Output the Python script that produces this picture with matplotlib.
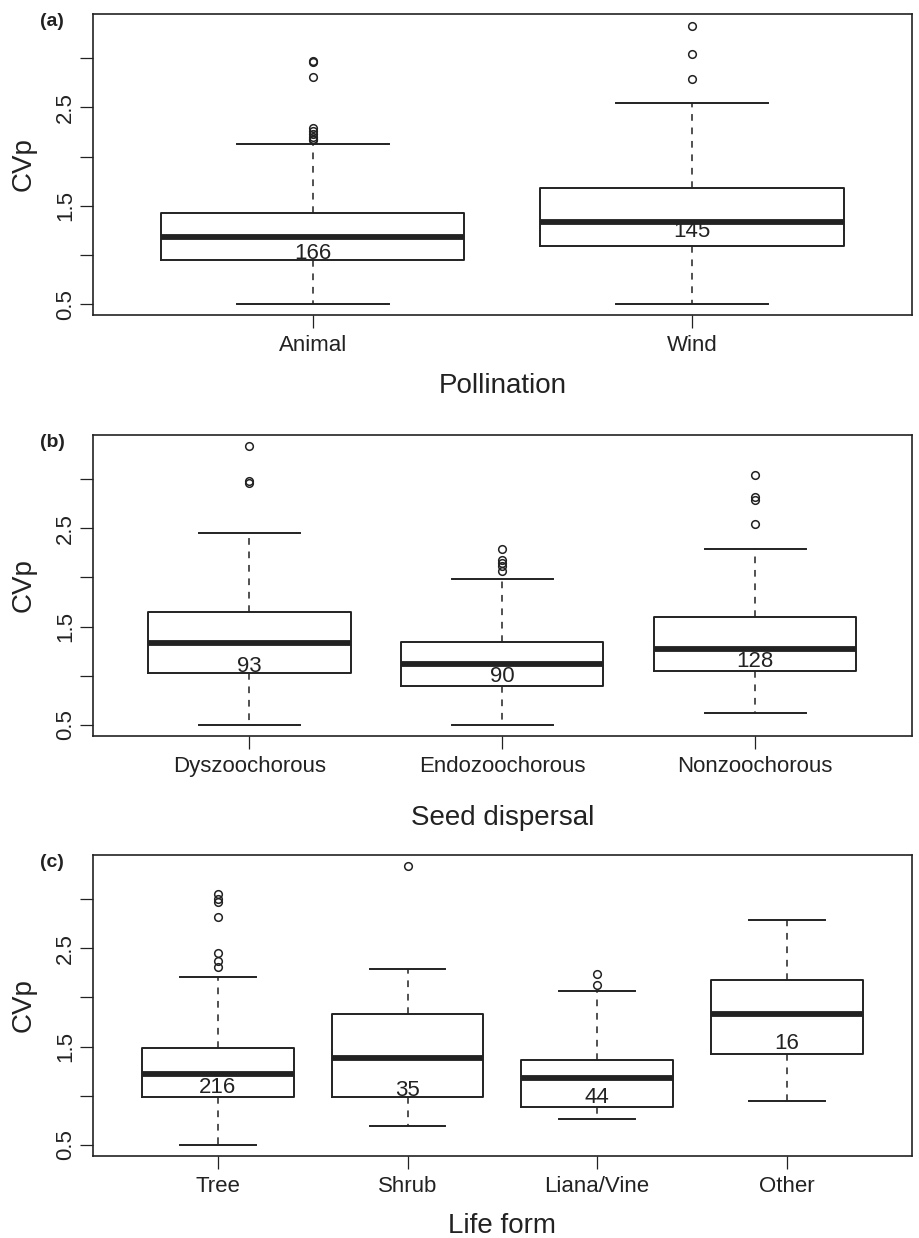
import matplotlib
matplotlib.use('Agg')
import matplotlib.pyplot as plt

plt.rcParams['font.family'] = ['Liberation Sans', 'DejaVu Sans']

# Panel (a): pollination
poll_names = ["Animal", "Wind"]
poll_q1 = [0.949, 1.091]
poll_med = [1.179, 1.337]
poll_q3 = [1.430, 1.681]
poll_lo = [0.503, 0.503]
poll_hi = [2.127, 2.543]
poll_fliers = [[2.975, 2.965, 2.81, 2.29, 2.26, 2.23, 2.20, 2.18, 2.165],
               [3.33, 3.04, 2.79]]
poll_n = [166, 145]
poll_label_y = [1.02, 1.24]

# Panel (b): seed dispersal
disp_names = ["Dyszoochorous", "Endozoochorous", "Nonzoochorous"]
disp_q1 = [1.026, 0.897, 1.052]
disp_med = [1.337, 1.121, 1.276]
disp_q3 = [1.646, 1.341, 1.599]
disp_lo = [0.503, 0.503, 0.622]
disp_hi = [2.453, 1.985, 2.287]
disp_fliers = [[3.338, 2.98, 2.965],
               [2.29, 2.18, 2.15, 2.12, 2.067],
               [3.043, 2.816, 2.789, 2.545]]
disp_n = [93, 90, 128]
disp_label_y = [1.093, 0.99, 1.148]

# Panel (c): life form
life_names = ["Tree", "Shrub", "Liana/Vine", "Other"]
life_q1 = [0.989, 0.989, 0.884, 1.430]
life_med = [1.223, 1.383, 1.182, 1.837]
life_q3 = [1.488, 1.827, 1.366, 2.177]
life_lo = [0.500, 0.693, 0.768, 0.951]
life_hi = [2.204, 2.292, 2.065, 2.791]
life_fliers = [[3.053, 3.002, 2.971, 2.819, 2.452, 2.367, 2.306],
               [3.334],
               [2.241, 2.132],
               []]
life_n = [216, 35, 44, 16]
life_label_y = [1.088, 1.053, 0.986, 1.529]

panels = [
    ("(a)", "Pollination", poll_names, poll_q1, poll_med, poll_q3, poll_lo, poll_hi, poll_fliers, poll_n, poll_label_y),
    ("(b)", "Seed dispersal", disp_names, disp_q1, disp_med, disp_q3, disp_lo, disp_hi, disp_fliers, disp_n, disp_label_y),
    ("(c)", "Life form", life_names, life_q1, life_med, life_q3, life_lo, life_hi, life_fliers, life_n, life_label_y),
]

W, H = 919, 1238
fig = plt.figure(figsize=(W / 100, H / 100), dpi=100)

# axes boxes in pixels: (top, bottom), plus xlabel offset (axes fraction)
ax_rows = [(14, 315), (435, 735.7), (855, 1155.7)]
xlabel_off = [-0.193, -0.232, -0.19]
left_px, right_px = 92.7, 912

for k, (tag, xlab, names, q1, med, q3, lo, hi, fl, nn, ly) in enumerate(panels):
    top, bot = ax_rows[k]
    ax = fig.add_axes([left_px / W, 1 - bot / H, (right_px - left_px) / W, (bot - top) / H])
    stats = []
    for i in range(len(names)):
        stats.append(dict(med=med[i], q1=q1[i], q3=q3[i], whislo=lo[i], whishi=hi[i],
                          fliers=fl[i], label=names[i]))
    pos = list(range(1, len(names) + 1))
    ax.bxp(stats, positions=pos, widths=0.8, capwidths=0.4,
           boxprops=dict(color='#222222', linewidth=1.4),
           medianprops=dict(color='#222222', linewidth=4.2, solid_capstyle='butt'),
           whiskerprops=dict(color='#222222', linewidth=1.1, linestyle=(0, (4.4, 4.4))),
           capprops=dict(color='#222222', linewidth=1.4),
           flierprops=dict(marker='o', markerfacecolor='none', markeredgecolor='#222222',
                           markersize=5.5, markeredgewidth=1.1))
    for i in range(len(names)):
        ax.text(pos[i], ly[i], str(nn[i]), ha='center', va='center', fontsize=16, color='#222222')

    n = len(names)
    ext = 0.04 * n
    ax.set_xlim(0.5 - ext, n + 0.5 + ext)
    ax.set_ylim(0.39, 3.45)
    yt = [0.5, 1.0, 1.5, 2.0, 2.5, 3.0]
    ax.set_yticks(yt)
    ax.set_yticklabels(["0.5", "", "1.5", "", "2.5", ""], rotation=90, va='center')
    ax.set_xticks(pos)
    ax.set_xticklabels(names)
    ax.tick_params(axis='both', direction='out', length=9.5, width=0.9, labelsize=16,
                   colors='#222222', top=False, right=False)
    ax.tick_params(axis='x', pad=5)
    ax.tick_params(axis='y', pad=2.5)
    for s in ax.spines.values():
        s.set_linewidth(1.2)
        s.set_color('#222222')
    ax.set_xlabel(xlab, fontsize=20, color='#222222')
    ax.xaxis.set_label_coords(0.5, xlabel_off[k])
    ax.xaxis.label.set_va('top')
    ax.set_ylabel("CVp", fontsize=20, color='#222222')
    ax.yaxis.set_label_coords(-0.069, 0.5)
    fig.text(52 / W, 1 - (top + 7.5) / H, tag, fontsize=14, fontweight='bold',
             ha='center', va='center', color='#222222')

fig.savefig("out.png", dpi=100, facecolor='white')
